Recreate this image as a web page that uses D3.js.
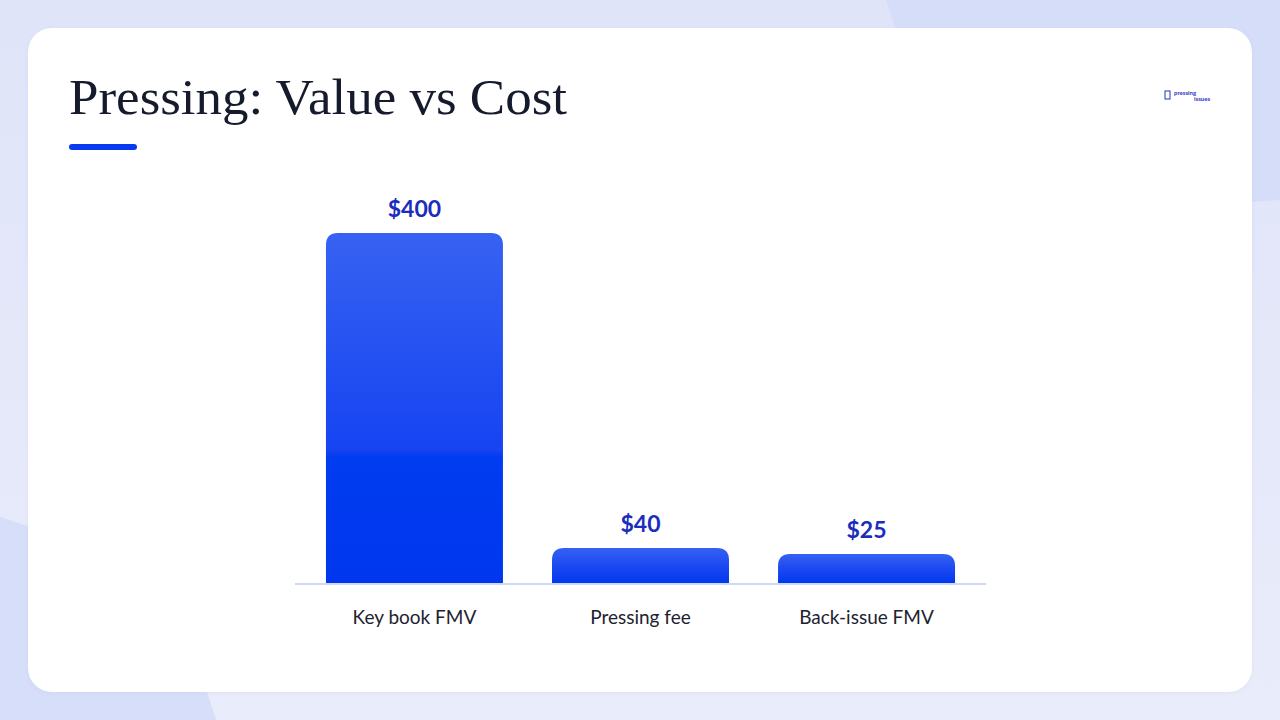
<!DOCTYPE html>
<html>
<head>
<meta charset="utf-8">
<script src="https://cdn.jsdelivr.net/npm/d3@7"></script>
<style>
  html, body { margin: 0; padding: 0; background: #e5e9f9; }
  svg { display: block; }
</style>
</head>
<body>
<script>
// chart data
const categories = ['Key book FMV', 'Pressing fee', 'Back-issue FMV'];
const values = [400, 40, 25];
const valueLabels = ['$400', '$40', '$25'];
const chartTitle = 'Pressing: Value vs Cost';

const W = 1280, H = 720;
const baseY = 583, topY = 233;
const minBarH = 29; // small bars are drawn with a visible minimum height

let svg = d3.select('body')
  .append('svg')
  .attr('width', W)
  .attr('height', H);

let defs = svg.append('defs');

// page background
let bgGrad = defs.append('linearGradient')
  .attr('id', 'bgGrad')
  .attr('x1', 0).attr('y1', 0).attr('x2', 0).attr('y2', 1);
bgGrad.append('stop').attr('offset', 0).attr('stop-color', '#dfe4f8');
bgGrad.append('stop').attr('offset', 1).attr('stop-color', '#e9ecfa');

svg.append('rect')
  .attr('width', W).attr('height', H)
  .attr('fill', 'url(#bgGrad)');

// decorative shapes behind the card
svg.append('path')
  .attr('d', 'M886,0 L1280,0 L1280,200 L960,222 Z')
  .attr('fill', '#d5ddf9');
svg.append('path')
  .attr('d', 'M0,517 L70,540 L207,692 L216,720 L0,720 Z')
  .attr('fill', '#d6def9');

// card
let shadow = defs.append('filter').attr('id', 'shadow')
  .attr('x', -0.05).attr('y', -0.05).attr('width', 1.1).attr('height', 1.1);
shadow.append('feDropShadow')
  .attr('dx', 0).attr('dy', 1).attr('stdDeviation', 2)
  .attr('flood-color', '#9aa8d8').attr('flood-opacity', 0.15);

svg.append('rect')
  .attr('x', 28).attr('y', 28)
  .attr('width', 1224).attr('height', 664)
  .attr('rx', 24)
  .attr('fill', '#ffffff')
  .attr('filter', 'url(#shadow)');

// title + accent line
svg.append('text')
  .attr('x', 69).attr('y', 114)
  .attr('font-family', '"Liberation Serif", "DejaVu Serif", serif')
  .attr('font-size', 50)
  .attr('fill', '#151a2d')
  .attr('textLength', 498)
  .attr('lengthAdjust', 'spacingAndGlyphs')
  .text(chartTitle);

svg.append('rect')
  .attr('x', 69).attr('y', 144)
  .attr('width', 68).attr('height', 6)
  .attr('rx', 3)
  .attr('fill', '#0a3af0');

// small logo top right
let logo = svg.append('g').attr('transform', 'translate(1165,91)');
logo.append('rect')
  .attr('x', 0).attr('y', 0).attr('width', 5).attr('height', 8)
  .attr('fill', 'none').attr('stroke', '#1f33c8').attr('stroke-width', 1);
logo.append('text')
  .attr('x', 9).attr('y', 4)
  .attr('font-family', 'Lato, sans-serif').attr('font-size', 6).attr('font-weight', 700)
  .attr('fill', '#1f33c8')
  .text('pressing');
logo.append('text')
  .attr('x', 29).attr('y', 10)
  .attr('font-family', 'Lato, sans-serif').attr('font-size', 6).attr('font-weight', 700)
  .attr('fill', '#1f33c8')
  .text('issues');

// scales
let x = d3.scaleBand()
  .domain(categories)
  .range([295, 986])
  .paddingInner(0.217)
  .paddingOuter(0.137);

let y = d3.scaleLinear()
  .domain([0, d3.max(values)])
  .range([baseY, topY]);

// bar gradients: tall bar has a hard step, short bars a soft fade
let barGrad = defs.append('linearGradient')
  .attr('id', 'barGrad')
  .attr('x1', 0).attr('y1', 0).attr('x2', 0).attr('y2', 1);
barGrad.append('stop').attr('offset', 0).attr('stop-color', '#3762f2');
barGrad.append('stop').attr('offset', 0.62).attr('stop-color', '#1644f1');
barGrad.append('stop').attr('offset', 0.64).attr('stop-color', '#003cf0');
barGrad.append('stop').attr('offset', 1).attr('stop-color', '#0037ee');

let smallGrad = defs.append('linearGradient')
  .attr('id', 'smallGrad')
  .attr('x1', 0).attr('y1', 0).attr('x2', 0).attr('y2', 1);
smallGrad.append('stop').attr('offset', 0).attr('stop-color', '#3561f2');
smallGrad.append('stop').attr('offset', 0.55).attr('stop-color', '#1a47f1');
smallGrad.append('stop').attr('offset', 1).attr('stop-color', '#0038ef');

function barPath(x0, y0, w, h, r) {
  r = Math.min(r, h, w / 2);
  return 'M' + x0 + ',' + (y0 + h) +
    ' L' + x0 + ',' + (y0 + r) +
    ' Q' + x0 + ',' + y0 + ' ' + (x0 + r) + ',' + y0 +
    ' L' + (x0 + w - r) + ',' + y0 +
    ' Q' + (x0 + w) + ',' + y0 + ' ' + (x0 + w) + ',' + (y0 + r) +
    ' L' + (x0 + w) + ',' + (y0 + h) + ' Z';
}

function barTop(v) {
  return Math.min(y(v), baseY - minBarH);
}

let data = categories.map(function (c, i) {
  return { cat: c, value: values[i], label: valueLabels[i] };
});

let chart = svg.append('g').attr('class', 'chart');

chart.selectAll('path.bar')
  .data(data)
  .enter()
  .append('path')
  .attr('class', 'bar')
  .attr('fill', function (d) {
    return (baseY - barTop(d.value)) > 100 ? 'url(#barGrad)' : 'url(#smallGrad)';
  })
  .attr('d', function (d) {
    let t = barTop(d.value);
    return barPath(x(d.cat), t, x.bandwidth(), baseY - t, 12);
  });

// baseline
chart.append('line')
  .attr('x1', 295).attr('x2', 986)
  .attr('y1', baseY + 1).attr('y2', baseY + 1)
  .attr('stroke', '#cfd9f3')
  .attr('stroke-width', 2);

// value labels
chart.selectAll('text.val')
  .data(data)
  .enter()
  .append('text')
  .attr('class', 'val')
  .attr('x', function (d) { return x(d.cat) + x.bandwidth() / 2; })
  .attr('y', function (d) { return barTop(d.value) - 16; })
  .attr('text-anchor', 'middle')
  .attr('font-family', 'Lato, sans-serif')
  .attr('font-weight', 700)
  .attr('font-size', 23)
  .attr('fill', '#1a2dbd')
  .text(function (d) { return d.label; });

// category axis
let xAxis = d3.axisBottom(x).tickSize(0).tickPadding(0);
let axisG = chart.append('g')
  .attr('transform', 'translate(0,' + (baseY + 41) + ')')
  .call(xAxis);
axisG.select('.domain').remove();
axisG.selectAll('text')
  .attr('font-family', 'Lato, sans-serif')
  .attr('font-size', 19)
  .attr('fill', '#1e2230')
  .attr('dy', 0);
</script>
</body>
</html>
